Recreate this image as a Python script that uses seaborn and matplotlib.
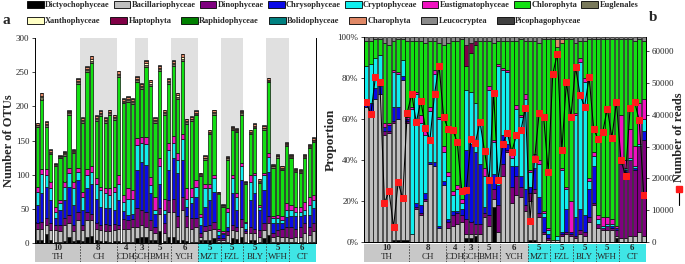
import numpy as np
import matplotlib
matplotlib.use('Agg')
import matplotlib.pyplot as plt
from matplotlib.patches import Patch
from matplotlib.lines import Line2D
import seaborn as sns

sns.set_theme(style='ticks')
plt.rcParams['font.family'] = ['Liberation Serif', 'DejaVu Serif']

# sampling sites, number of samples per site
groups = ['TH', 'CH', 'CDH', 'GCH', 'BMH', 'YCH', 'MZT', 'FZL', 'BLY', 'WFH', 'CT']
group_n = [10, 8, 4, 3, 5, 6, 5, 5, 5, 5, 6]

taxa = ['Dictyochophyceae', 'Bacillariophyceae', 'Dinophyceae', 'Chrysophyceae',
        'Cryptophyceae', 'Eustigmatophyceae', 'Chlorophyta', 'Euglenales',
        'Xanthophyceae', 'Haptophyta', 'Raphidophyceae', 'Bolidophyceae',
        'Charophyta', 'Leucocryptea', 'Picophagophyceae']

# ---- panel a: number of OTUs per sample ----
otu_dictyo = [4, 4, 13, 4, 2, 2, 3, 9, 3, 4, 3, 9, 10, 5, 3, 3, 2, 3, 3, 2, 2, 2, 8, 9, 9,
              4, 4, 17, 3, 9, 9, 4, 4, 3, 2, 2, 4, 5, 5, 7, 2, 2, 2, 7, 6, 9, 2, 5, 4, 2, 7,
              12, 2, 2, 2, 2, 2, 2, 2, 2, 2, 2]
otu_bacill = [17, 17, 13, 15, 17, 16, 23, 20, 15, 30, 16, 25, 24, 16, 16, 15, 16, 16, 17, 18,
              19, 22, 16, 17, 15, 15, 10, 26, 11, 37, 37, 20, 44, 21, 19, 22, 5, 12, 14, 14,
              2, 3, 10, 12, 12, 15, 12, 9, 11, 7, 12, 17, 7, 8, 7, 7, 5, 7, 7, 12, 10, 15]
otu_dino = [9, 10, 10, 10, 7, 8, 10, 12, 8, 12, 7, 12, 9, 9, 7, 10, 8, 9, 6, 15, 13, 11, 27,
            22, 22, 15, 10, 8, 15, 17, 19, 15, 19, 15, 15, 12, 5, 8, 7, 10, 3, 3, 5, 7, 6, 11,
            3, 10, 6, 10, 10, 10, 6, 9, 12, 15, 17, 12, 15, 15, 12, 12]
otu_chryso = [25, 42, 46, 34, 10, 22, 27, 41, 30, 46, 22, 34, 44, 35, 27, 23, 25, 20, 37, 12,
              7, 8, 56, 71, 68, 39, 18, 36, 14, 44, 59, 63, 54, 14, 22, 32, 12, 28, 37, 44, 5,
              5, 7, 47, 25, 57, 4, 39, 52, 29, 48, 65, 15, 10, 8, 14, 15, 18, 15, 12, 17, 22]
otu_crypto = [20, 28, 17, 17, 10, 10, 19, 20, 24, 12, 20, 19, 17, 22, 24, 22, 19, 27, 24, 13,
              24, 21, 36, 27, 31, 12, 7, 26, 6, 29, 22, 19, 31, 12, 10, 14, 12, 27, 17, 20, 6,
              1, 22, 22, 19, 20, 8, 27, 26, 5, 22, 22, 6, 7, 5, 10, 9, 7, 7, 8, 15, 12]
otu_eustig = [7, 7, 9, 10, 7, 5, 8, 8, 10, 6, 7, 9, 8, 8, 5, 8, 10, 7, 13, 10, 15, 13, 10, 9,
              10, 12, 19, 11, 16, 10, 10, 10, 7, 15, 12, 10, 5, 7, 6, 4, 3, 3, 5, 4, 5, 5, 2,
              9, 3, 3, 3, 5, 3, 5, 5, 10, 8, 7, 7, 11, 12, 7]
otu_chloro = [88, 102, 62, 40, 59, 61, 38, 78, 41, 122, 100, 142, 152, 84, 104, 95, 107, 98,
              143, 135, 126, 127, 82, 71, 103, 133, 108, 127, 122, 86, 103, 80, 108, 94, 98, 95,
              55, 35, 73, 88, 50, 36, 71, 66, 89, 71, 55, 60, 66, 32, 64, 104, 71, 84, 68, 84,
              68, 51, 49, 64, 71, 78]
otu_eugl = [2, 3, 3, 2, 2, 2, 2, 2, 2, 3, 3, 3, 3, 3, 3, 3, 3, 3, 3, 2, 3, 3, 3, 3, 3, 3, 3,
            3, 3, 3, 3, 3, 3, 3, 3, 2, 2, 2, 2, 3, 1, 1, 2, 2, 2, 2, 2, 2, 2, 2, 2, 2, 2, 2, 2,
            2, 2, 2, 2, 2, 2, 2]
otu_xantho = [1, 2, 1, 1, 1, 1, 1, 1, 1, 2, 2, 2, 2, 1, 1, 1, 1, 1, 2, 1, 2, 1, 2, 1, 2, 2, 1,
              2, 1, 2, 2, 2, 2, 1, 1, 1, 1, 1, 1, 1, 1, 1, 1, 1, 1, 1, 1, 1, 1, 1, 1, 1, 1, 1,
              1, 1, 1, 1, 1, 1, 1, 1]
otu_charo = [2, 4, 3, 3, 1, 1, 2, 2, 2, 3, 3, 3, 4, 3, 3, 3, 3, 3, 3, 3, 3, 3, 3, 3, 4, 3, 3,
             3, 3, 3, 3, 3, 4, 3, 3, 3, 1, 3, 3, 3, 1, 1, 1, 2, 2, 2, 1, 3, 3, 2, 2, 3, 1, 1,
             2, 2, 2, 2, 2, 2, 2, 3]
otu_leuco = [1, 1, 1, 1, 1, 1, 1, 1, 1, 1, 1, 1, 1, 1, 1, 1, 1, 1, 1, 1, 1, 1, 1, 1, 1, 1, 1,
             1, 1, 1, 1, 1, 1, 1, 1, 1, 1, 1, 1, 1, 1, 1, 1, 1, 1, 1, 1, 1, 1, 1, 1, 1, 1, 1,
             1, 1, 1, 1, 1, 1, 1, 1]

# ---- panel b: relative abundance (%) ----
pct_dictyo = [0, 0, 0, 0, 0, 0, 1, 1, 1, 1, 0, 0, 0, 0, 0, 0, 0, 0, 0, 0, 0, 0, 2, 2, 3, 0, 0,
              0, 17, 0, 0, 0, 0, 0, 0, 0, 1, 1, 0, 0, 0, 0, 0, 0, 0, 0, 0, 0, 0, 0, 0, 0, 0, 0,
              0, 2, 0, 0, 0, 0, 0, 0]
pct_bacill = [66, 62, 70, 72, 52, 53, 57, 59, 78, 57, 4, 16, 13, 20, 38, 37, 7, 28, 7, 8, 9,
              10, 2, 2, 1, 4, 12, 8, 4, 5, 32, 44, 19, 23, 22, 15, 19, 23, 12, 4, 1, 1, 1, 3, 4,
              3, 2, 4, 3, 10, 18, 7, 6, 6, 6, 1, 2, 2, 3, 3, 5, 3]
pct_dino = [0, 1, 0, 0, 2, 1, 1, 0, 0, 1, 0, 1, 1, 1, 0, 0, 0, 0, 3, 5, 5, 3, 7, 6, 5, 5, 2, 5,
            5, 13, 6, 1, 8, 9, 5, 3, 4, 2, 2, 1, 1, 0, 0, 1, 1, 1, 1, 2, 2, 2, 1, 2, 1, 2, 1, 3,
            36, 32, 37, 32, 42, 47]
pct_chryso = [3, 5, 5, 4, 2, 3, 7, 6, 2, 1, 0, 2, 4, 3, 1, 2, 1, 2, 1, 2, 1, 3, 34, 38, 35,
              29, 3, 17, 7, 10, 14, 3, 10, 5, 5, 8, 3, 10, 8, 7, 2, 0, 0, 1, 11, 1, 9, 10, 8, 14,
              18, 0, 0, 0, 1, 1, 0, 1, 0, 1, 0, 4]
pct_crypto = [17, 19, 15, 15, 0, 0, 17, 16, 8, 0, 61, 53, 40, 28, 25, 43, 52, 14, 21, 8, 11,
              3, 29, 25, 24, 20, 15, 44, 16, 58, 32, 35, 4, 28, 29, 44, 7, 5, 16, 2, 2, 0, 2,
              30, 10, 0, 50, 72, 65, 4, 5, 2, 1, 1, 1, 0, 1, 1, 1, 1, 1, 6]
pct_eustig = [0, 0, 0, 0, 2, 1, 1, 1, 0, 1, 1, 1, 4, 3, 2, 2, 1, 3, 2, 2, 2, 2, 0, 0, 0, 2, 4,
              2, 1, 1, 1, 1, 2, 2, 1, 2, 1, 2, 2, 1, 1, 0, 0, 1, 1, 15, 1, 2, 2, 1, 2, 2, 4, 3,
              2, 1, 23, 4, 14, 10, 20, 10]
pct_chloro = [12, 11, 9, 8, 39, 38, 14, 16, 10, 37, 32, 25, 36, 42, 32, 14, 36, 49, 63, 73,
              70, 78, 12, 19, 28, 38, 62, 22, 47, 11, 13, 14, 55, 31, 37, 26, 63, 55, 57, 84,
              92, 98, 92, 61, 72, 79, 34, 8, 18, 68, 55, 86, 87, 87, 88, 91, 37, 59, 44, 51,
              31, 28]
pct_hapto = [0, 0, 0, 0, 0, 0, 0, 0, 0, 0, 0, 0, 0, 0, 0, 0, 0, 0, 0, 0, 0, 0, 10, 5, 2, 0, 0,
             0, 0, 0, 0, 0, 0, 0, 0, 0, 0, 0, 0, 0, 0, 0, 0, 0, 0, 0, 0, 0, 0, 0, 0, 0, 0, 0,
             0, 0, 0, 0, 0, 0, 0, 0]
pct_charo = [0, 0, 0, 0, 0, 0, 0, 0, 0, 0, 0, 0, 0, 0, 0, 0, 0, 0, 0, 0, 0, 0, 0, 0, 0, 0, 0,
             0, 0, 0, 0, 0, 0, 0, 0, 0, 0, 0, 0, 0, 0, 0, 4, 2, 0, 0, 0, 0, 0, 0, 0, 0, 0, 0,
             0, 0, 0, 0, 0, 0, 0, 0]
pct_leuco = [2, 2, 1, 1, 3, 4, 2, 1, 1, 2, 2, 2, 2, 3, 2, 2, 3, 4, 3, 2, 2, 1, 4, 3, 2, 2, 2,
             2, 3, 2, 2, 2, 2, 2, 1, 2, 2, 2, 3, 1, 1, 1, 1, 1, 1, 1, 3, 2, 2, 1, 1, 1, 1, 1,
             1, 1, 1, 1, 1, 2, 1, 2]

# number of reads per sample (right axis of panel b)
reads = [43900, 40200, 51800, 50200, 12300, 16000, 4600, 18800, 13700, 40700, 46500, 37600,
         44400, 35800, 32200, 46500, 55500, 39400, 35500, 35300, 31400, 16000, 16500, 32300,
         31300, 37800, 28600, 19400, 47000, 19400, 30900, 34400, 28400, 33600, 35100, 42300,
         6700, 26000, 40500, 39300, 22100, 52800, 59300, 28800, 50400, 39300, 55100, 46300,
         42600, 51800, 35500, 32300, 34700, 42000, 32800, 44100, 25700, 20900, 42100, 44100,
         38300, 14900]

palette = {
    'Dictyochophyceae': '#000000', 'Bacillariophyceae': '#c0c0c0', 'Dinophyceae': '#7f007f',
    'Chrysophyceae': '#0a0ae6', 'Cryptophyceae': '#10eeee', 'Eustigmatophyceae': '#f010c0',
    'Chlorophyta': '#12e012', 'Euglenales': '#7a7a5c', 'Xanthophyceae': '#ffffc4',
    'Haptophyta': '#800046', 'Raphidophyceae': '#008000', 'Bolidophyceae': '#008080',
    'Charophyta': '#e08866', 'Leucocryptea': '#8a8a8a', 'Picophagophyceae': '#404040'}

series_a = {'Dictyochophyceae': otu_dictyo, 'Bacillariophyceae': otu_bacill,
            'Dinophyceae': otu_dino, 'Chrysophyceae': otu_chryso, 'Cryptophyceae': otu_crypto,
            'Eustigmatophyceae': otu_eustig, 'Chlorophyta': otu_chloro, 'Euglenales': otu_eugl,
            'Xanthophyceae': otu_xantho, 'Charophyta': otu_charo, 'Leucocryptea': otu_leuco}
series_b = {'Dictyochophyceae': pct_dictyo, 'Bacillariophyceae': pct_bacill,
            'Dinophyceae': pct_dino, 'Chrysophyceae': pct_chryso, 'Cryptophyceae': pct_crypto,
            'Eustigmatophyceae': pct_eustig, 'Chlorophyta': pct_chloro, 'Haptophyta': pct_hapto,
            'Charophyta': pct_charo, 'Leucocryptea': pct_leuco}

W, H = 685, 264
fig = plt.figure(figsize=(W / 100, H / 100), dpi=100)


def px_axes(x0, y0, x1, y1):
    return fig.add_axes([x0 / W, 1 - y1 / H, (x1 - x0) / W, (y1 - y0) / H])


ax_a = px_axes(35, 38, 316, 243)
ax_b = px_axes(364, 37, 646, 242)
band_a = px_axes(35, 244, 316, 262)
band_b = px_axes(364, 244, 646, 262)

n = len(reads)
x = np.arange(n)
edges = np.concatenate([[0], np.cumsum(group_n)]) - 0.5


def stack(ax, series, width):
    bottom = np.zeros(n)
    for name in taxa:
        if name not in series:
            continue
        vals = np.asarray(series[name], dtype=float)
        m = vals > 0
        ax.bar(x[m], vals[m], bottom=bottom[m], width=width, color=palette[name],
               edgecolor='black', linewidth=0.45, zorder=2)
        bottom += vals


# panel a
for i in range(1, len(groups), 2):
    ax_a.axvspan(edges[i], edges[i + 1], color='#e0e0e0', lw=0, zorder=0)
stack(ax_a, series_a, 0.72)
ax_a.set_xlim(-0.5, n - 0.5)
ax_a.set_ylim(0, 300)
ax_a.set_yticks(range(0, 301, 50))
ax_a.set_ylabel('Number of OTUs', fontsize=9, fontweight='bold')
ax_a.yaxis.set_label_coords((15 - 35) / 281, 0.5)

# panel b
stack(ax_b, series_b, 0.85)
ax_b.set_xlim(-0.5, n - 0.5)
ax_b.set_ylim(0, 100)
ax_b.set_yticks(range(0, 101, 20))
ax_b.set_yticklabels([f'{v}%' for v in range(0, 101, 20)])
ax_b.set_ylabel('Proportion', fontsize=9.5, fontweight='bold')
ax_b.yaxis.set_label_coords((337 - 364) / 282, 0.5)

ax_r = ax_b.twinx()
sns.lineplot(x=x, y=reads, ax=ax_r, color='black', lw=0.75, marker='s', markersize=4,
             markerfacecolor='#ff1a1a', markeredgecolor='#ff1a1a', zorder=5)
ax_r.set_xlim(-0.5, n - 0.5)
ax_r.set_ylim(0, 64500)
ax_r.set_yticks(range(0, 60001, 10000))
ax_r.set_ylabel('')

for ax in (ax_a, ax_b, ax_r):
    ax.set_xticks([])
    ax.tick_params(axis='y', labelsize=6.5, length=2.5, width=0.6, pad=1.5)
    for s in ax.spines.values():
        s.set_linewidth(0.7)
        s.set_color('black')
    ax.spines['top'].set_visible(False)
    ax.set_facecolor('none')
ax_a.spines['right'].set_visible(True)
ax_b.spines['right'].set_visible(True)

# site band under each panel
for band in (band_a, band_b):
    band.set_xlim(-0.5, n - 0.5)
    band.set_ylim(0, 1)
    band.axis('off')
    band.axvspan(edges[0], edges[6], color='#c8c8c8', lw=0)
    band.axvspan(edges[6], edges[-1], color='#3fe6e6', lw=0)
    for e in edges[1:-1]:
        band.axvline(e, color='#404040', lw=0.6, ls=(0, (2, 1.5)))
    for g, k, a, b in zip(groups, group_n, edges[:-1], edges[1:]):
        c = (a + b) / 2
        band.text(c, 0.76, str(k), ha='center', va='center', fontsize=6.5, fontweight='bold')
        band.text(c, 0.27, g, ha='center', va='center', fontsize=6.5)

# legend, two rows
handles = [Patch(facecolor=palette[t], edgecolor='black', linewidth=0.6) for t in taxa]
leg_kw = dict(loc='upper left', frameon=False, prop={'size': 6, 'weight': 'bold'},
              handlelength=2.0, handleheight=0.9, handletextpad=0.15,
              borderaxespad=0, borderpad=0)
fig.legend(handles[:8], taxa[:8], ncol=8, columnspacing=0.5,
           bbox_to_anchor=(27 / W, 1 - 1 / H), **leg_kw)
fig.legend(handles[8:], taxa[8:], ncol=7, columnspacing=1.2,
           bbox_to_anchor=(27 / W, 1 - 17 / H), **leg_kw)

fig.text(6 / W, 1 - 20 / H, 'a', fontsize=11, fontweight='bold', ha='center', va='center')
fig.text(653 / W, 1 - 18 / H, 'b', fontsize=11, fontweight='bold', ha='center', va='center')

# right axis label with line/marker key
fig.text(679 / W, 1 - 137 / H, 'Number of reads', rotation=90, fontsize=9,
         fontweight='bold', ha='center', va='center')
fig.add_artist(Line2D([679 / W, 679 / W], [1 - 188 / H, 1 - 205 / H], color='black', lw=0.8))
fig.add_artist(Line2D([679 / W], [1 - 189 / H], marker='s', markersize=5, color='#ff1a1a',
                      lw=0))

fig.savefig('out.png', dpi=100)
